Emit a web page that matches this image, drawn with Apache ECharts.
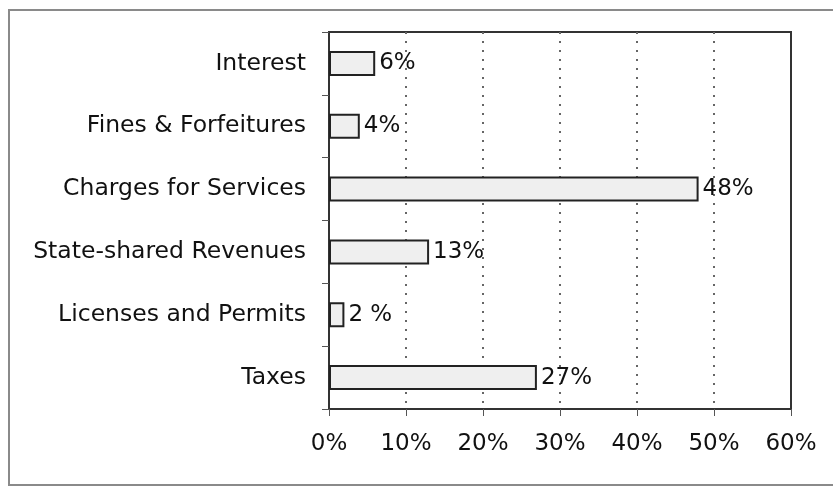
<!DOCTYPE html>
<html><head><meta charset="utf-8">
<script src="https://cdn.jsdelivr.net/npm/echarts@6/dist/echarts.min.js"></script>
<style>html,body{margin:0;padding:0;background:#fff}#c{width:833px;height:488px}</style>
</head><body><div id="c"></div>
<script>
const categories = ["Taxes", "Licenses and Permits", "State-shared Revenues", "Charges for Services", "Fines & Forfeitures", "Interest"];
const values = [27, 2, 13, 48, 4, 6];
const valueLabels = ["27%", "2 %", "13%", "48%", "4%", "6%"];
const xTicks = [0, 10, 20, 30, 40, 50, 60];

const FONT = '"DejaVu Sans", sans-serif';
const chart = echarts.init(document.getElementById('c'), null, {renderer: 'canvas'});
chart.setOption({
  animation: false,
  backgroundColor: '#fff',
  graphic: [{
    type: 'rect', shape: {x: 9, y: 10, width: 840, height: 475},
    style: {fill: 'none', stroke: '#8a8a8a', lineWidth: 2}, silent: true
  }],
  grid: {left: 329, right: 42, top: 32, bottom: 79, show: true, borderColor: '#333', borderWidth: 2, backgroundColor: 'transparent'},
  xAxis: {
    type: 'value', min: xTicks[0], max: xTicks[xTicks.length - 1], interval: 10,
    axisLine: {show: true, lineStyle: {color: '#333', width: 2}},
    axisTick: {show: true, length: 7, lineStyle: {color: '#555'}},
    axisLabel: {formatter: v => v + '%', color: '#111', fontFamily: FONT, fontSize: 23, margin: 24},
    splitLine: {show: true, showMinLine: false, showMaxLine: false, lineStyle: {color: '#666', type: [2, 7], width: 2}}
  },
  yAxis: {
    type: 'category', data: categories,
    axisLine: {show: true, lineStyle: {color: '#333', width: 2}},
    axisTick: {show: true, length: 7, lineStyle: {color: '#555'}},
    axisLabel: {color: '#111', fontFamily: FONT, fontSize: 23.5, margin: 23}
  },
  series: [{
    type: 'bar', data: values, barWidth: 25,
    itemStyle: {color: '#efefef', borderColor: '#222', borderWidth: 2},
    label: {show: true, position: 'right', distance: 4, color: '#111', fontFamily: FONT, fontSize: 23,
      formatter: p => valueLabels[p.dataIndex]}
  }]
});
</script></body></html>
